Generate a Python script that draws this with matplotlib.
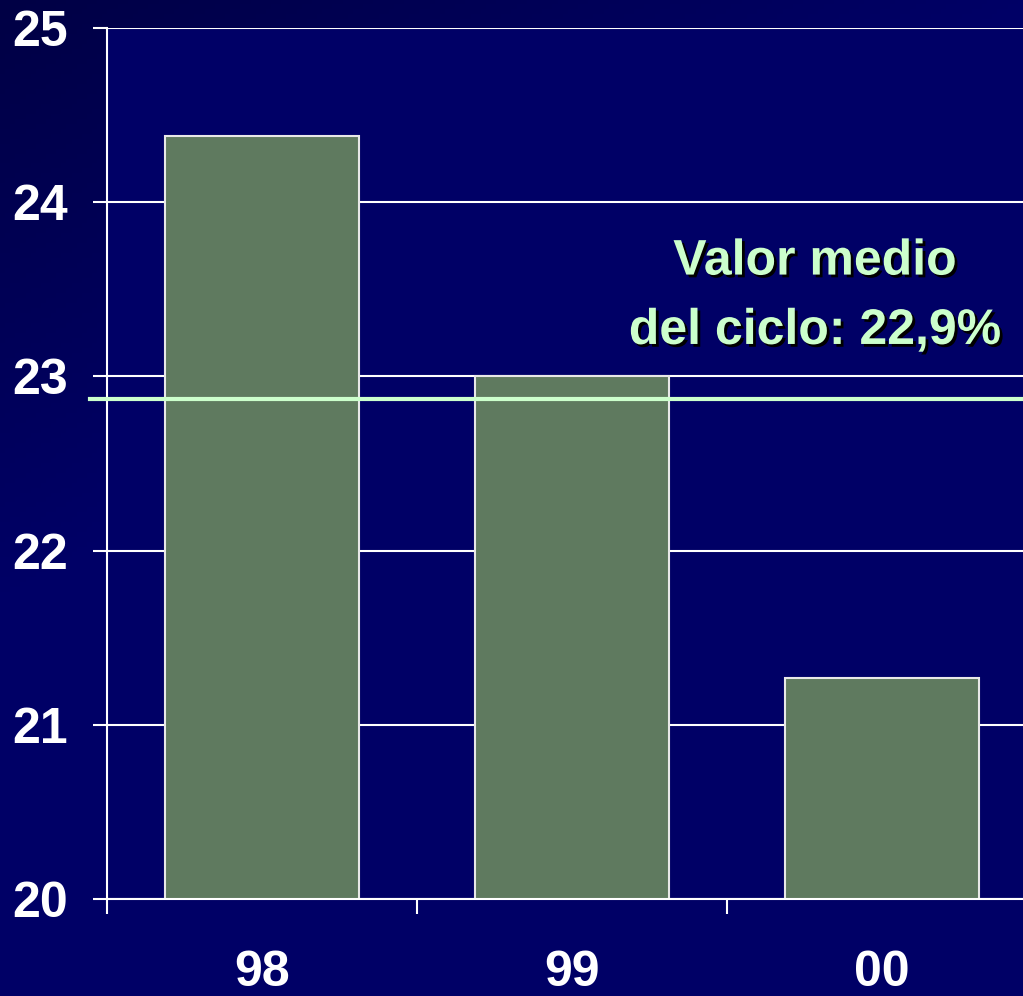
import numpy as np
import matplotlib.pyplot as plt
import matplotlib.patheffects as pe
from matplotlib.colors import LinearSegmentedColormap

# -----------------------------
# Data
# -----------------------------
years = ["98", "99", "00"]
values = [24.38, 23.0, 21.27]
mean_value = 22.87
mean_label = "Valor medio\ndel ciclo: 22,9%"

plt.rcParams['font.family'] = ['Liberation Sans', 'DejaVu Sans']

fig = plt.figure(figsize=(10.23, 9.96), dpi=100)

# -----------------------------
# Background gradient (darker top-left)
# -----------------------------
bg = fig.add_axes([0, 0, 1, 1], zorder=-1)
yy, xx = np.mgrid[0:1:200j, 0:1:200j]
grad = np.clip((xx * 0.6 + yy * 1.0) / 0.6, 0, 1)
cmap = LinearSegmentedColormap.from_list("bg", ["#000045", "#000066"])
bg.imshow(grad, cmap=cmap, aspect="auto", extent=[0, 1, 1, 0])
bg.axis("off")

# -----------------------------
# Main axes
# -----------------------------
ax = fig.add_axes([107/1023, 97/996, 930/1023, 871/996])
ax.set_facecolor("#000066")

x = np.arange(len(years))
ax.bar(x, values, width=0.626, color="#5f7a5f", edgecolor="#e8e8e8",
       linewidth=1.5, zorder=3)

ax.set_xlim(-0.5, 2.5)
ax.set_ylim(20, 25)
ax.set_yticks(range(20, 26))
ax.yaxis.grid(True, color="white", linewidth=1.5, zorder=1)
ax.set_axisbelow(True)

ax.set_xticks(x)
ax.set_xticklabels(years)
ax.set_xticks([-0.5, 0.5, 1.5], minor=True)
ax.tick_params(axis="x", which="major", length=0, pad=37,
               labelsize=36, labelcolor="white")
ax.tick_params(axis="x", which="minor", length=11, width=1.5, color="white",
               direction="out")
ax.tick_params(axis="y", length=10, width=1.5, color="white", pad=18,
               labelsize=36, labelcolor="white")
for lab in ax.get_xticklabels() + ax.get_yticklabels():
    lab.set_fontweight("bold")

for side in ["top", "right"]:
    ax.spines[side].set_visible(False)
for side in ["left", "bottom"]:
    ax.spines[side].set_color("white")
    ax.spines[side].set_linewidth(1.5)
    ax.spines[side].set_zorder(4)

# mean line
ax.plot([-0.555, 2.5], [mean_value, mean_value], color="#ccffcc",
        linewidth=3, zorder=5, clip_on=False)

ax.text(1.784, 23.46, mean_label, color="#ccffcc", fontsize=36,
        fontweight="bold", ha="center", va="center", linespacing=1.65,
        zorder=6,
        path_effects=[pe.withSimplePatchShadow(offset=(2, -2),
                                               shadow_rgbFace="black",
                                               alpha=1)])

fig.savefig("out.png", dpi=100)
